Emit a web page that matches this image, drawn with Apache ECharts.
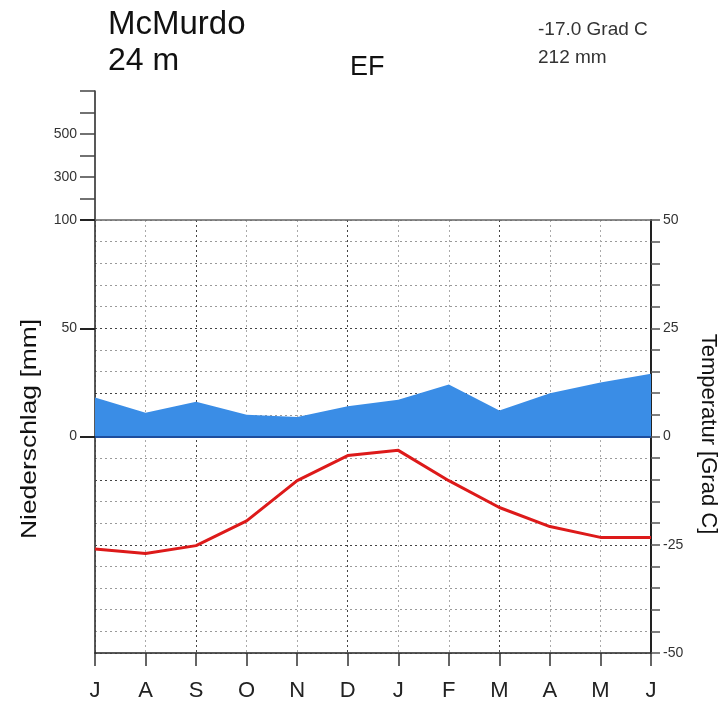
<!DOCTYPE html>
<html>
<head>
    <meta charset="UTF-8">
    <title>Klimadiagramm McMurdo</title>
    <script src="https://cdn.jsdelivr.net/npm/echarts@6/dist/echarts.min.js"></script>
    <style>
        html, body { margin: 0; padding: 0; background: #fff; }
        #chart { width: 727px; height: 703px; }
    </style>
</head>
<body>
<div id="chart"></div>
<script>
    var months = ['J', 'A', 'S', 'O', 'N', 'D', 'J', 'F', 'M', 'A', 'M', 'J'];
    // Niederschlag [mm]
    var precip = [18, 11, 16, 10, 9, 14, 17, 24, 12, 20, 25, 29];
    // Temperatur [Grad C]
    var temp = [-26, -27, -25.2, -19.5, -10.2, -4.4, -3.2, -10.2, -16.4, -20.8, -23.3, -23.3];
    var upperTickLabels = [300, 500];
    var leftTickLabels = [0, 50, 100];
    var rightTickLabels = [-50, -25, 0, 25, 50];

    var font = '"Liberation Sans", Arial, sans-serif';

    // darker dotted lines at +-10 and +-25 deg
    var hColors = [];
    for (var v = -50; v <= 50; v += 5) {
        hColors.push([-25, -10, 10, 25].indexOf(v) >= 0 ? '#444' : '#9a9a9a');
    }

    var myChart = echarts.init(document.getElementById('chart'));

    var option = {
        animation: false,
        grid: [
            {left: 95, right: 76, top: 91, height: 129},
            {left: 95, right: 76, top: 220, height: 433}
        ],
        xAxis: [
            {gridIndex: 0, type: 'category', data: months, show: false},
            {
                gridIndex: 1, type: 'category', data: months, boundaryGap: false, position: 'bottom',
                axisLine: {onZero: false, lineStyle: {color: '#222', width: 1.5}},
                axisTick: {length: 13, lineStyle: {color: '#333', width: 1.5}},
                axisLabel: {margin: 27, fontSize: 22, color: '#222', fontFamily: font},
                splitLine: {show: true, lineStyle: {color: ['#aaa', '#aaa', '#444'], type: [2, 3], width: 1}}
            },
            {
                gridIndex: 1, type: 'category', data: months, boundaryGap: false, position: 'top',
                axisLine: {onZero: false, lineStyle: {color: '#666', width: 1.5}},
                axisTick: {show: false}, axisLabel: {show: false}
            }
        ],
        yAxis: [
            {
                gridIndex: 0, type: 'value', min: 100, max: 700, interval: 100,
                axisLine: {show: true, lineStyle: {color: '#222', width: 1.5}},
                axisTick: {show: true, length: 15, lineStyle: {color: '#444', width: 1.5}},
                axisLabel: {
                    margin: 18, fontSize: 14, color: '#333', fontFamily: font,
                    formatter: function (v) { return upperTickLabels.indexOf(v) >= 0 ? v : ''; }
                },
                splitLine: {show: false}
            },
            {
                gridIndex: 1, type: 'value', min: -100, max: 100, interval: 50,
                axisLine: {show: true, onZero: false, lineStyle: {color: '#222', width: 1.5}},
                axisTick: {show: true, length: 15, customValues: leftTickLabels, lineStyle: {color: '#222', width: 2}},
                axisLabel: {
                    margin: 18, fontSize: 14, color: '#333', fontFamily: font,
                    customValues: leftTickLabels
                },
                splitLine: {show: false}
            },
            {
                gridIndex: 1, type: 'value', min: -50, max: 50, interval: 5, position: 'right',
                axisLine: {show: true, onZero: false, lineStyle: {color: '#222', width: 2}},
                axisTick: {show: true, length: 9, lineStyle: {color: '#555', width: 1.5}},
                axisLabel: {
                    margin: 12, fontSize: 14, color: '#333', fontFamily: font,
                    formatter: function (v) { return rightTickLabels.indexOf(v) >= 0 ? v : ''; }
                },
                splitLine: {show: true, lineStyle: {color: hColors, type: [2, 3], width: 1}}
            }
        ],
        series: [
            {
                name: 'Niederschlag', type: 'line', xAxisIndex: 1, yAxisIndex: 1,
                data: precip, symbol: 'none',
                lineStyle: {width: 0},
                areaStyle: {color: '#3a8de6', opacity: 1},
                markLine: {
                    silent: true, symbol: 'none', label: {show: false},
                    lineStyle: {color: '#1d4e9e', width: 2, type: 'solid'},
                    data: [{yAxis: 0}]
                },
                z: 3
            },
            {
                name: 'Temperatur', type: 'line', xAxisIndex: 1, yAxisIndex: 2,
                data: temp, symbol: 'none',
                lineStyle: {color: '#dd1a1a', width: 3},
                z: 4
            }
        ],
        graphic: [
            {type: 'text', x: 108, y: 25, style: {text: 'McMurdo', font: '33px ' + font, fill: '#111', textVerticalAlign: 'middle'}},
            {type: 'text', x: 108, y: 61, style: {text: '24 m', font: '32px ' + font, fill: '#111', textVerticalAlign: 'middle'}},
            {type: 'text', x: 350, y: 68, style: {text: 'EF', font: '27px ' + font, fill: '#111', textVerticalAlign: 'middle'}},
            {type: 'text', x: 538, y: 30, style: {text: '-17.0 Grad C', font: '19px ' + font, fill: '#333', textVerticalAlign: 'middle'}},
            {type: 'text', x: 538, y: 58, style: {text: '212 mm', font: '19px ' + font, fill: '#333', textVerticalAlign: 'middle'}},
            {
                type: 'text', x: 30, y: 429, rotation: Math.PI / 2, scaleX: 1.2,
                style: {text: 'Niederschlag [mm]', font: '22px ' + font, fill: '#111', textAlign: 'center', textVerticalAlign: 'middle'}
            },
            {
                type: 'text', x: 708, y: 434, rotation: -Math.PI / 2,
                style: {text: 'Temperatur [Grad C]', font: '22px ' + font, fill: '#111', textAlign: 'center', textVerticalAlign: 'middle'}
            }
        ]
    };

    myChart.setOption(option);
</script>
</body>
</html>
